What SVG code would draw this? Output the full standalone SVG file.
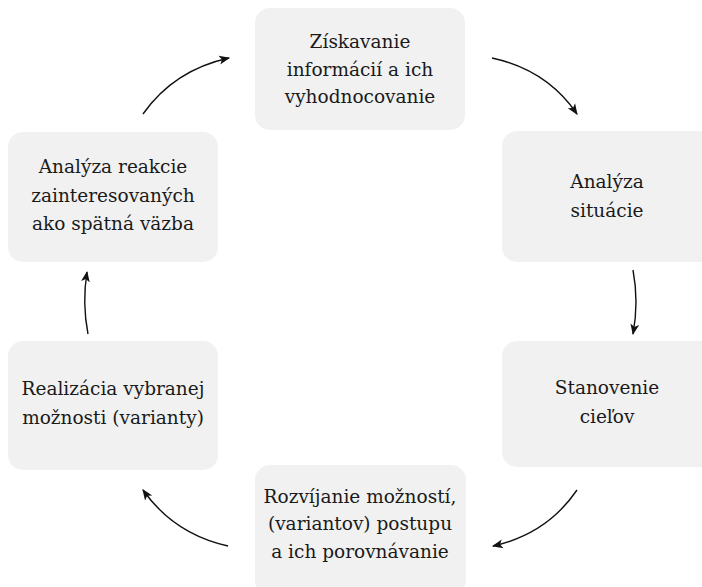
<svg xmlns="http://www.w3.org/2000/svg" width="702" height="587" viewBox="0 0 702 587">
<style>
.box{fill:#f1f1f1;}
.t{font-family:'DejaVu Serif',serif;font-size:18.5px;fill:#1a1a1a;text-anchor:middle;}
.c{fill:none;stroke:#111;stroke-width:1.4;marker-end:url(#ah);}
</style>
<defs>
<marker id="ah" viewBox="0 0 10 10" refX="9" refY="5" markerWidth="11" markerHeight="11" markerUnits="userSpaceOnUse" orient="auto">
<path d="M0,1 L10,5 L0,9 L2.5,5 Z" fill="#111"/>
</marker>
</defs>
<rect width="702" height="587" fill="#fff"/>
<g id="n1"><rect class="box" x="255" y="8" width="210" height="122" rx="15"/>
<text class="t" x="360" y="48">Získavanie</text><text class="t" x="360" y="76">informácií a ich</text><text class="t" x="360" y="103">vyhodnocovanie</text></g>
<g id="n2"><rect class="box" x="502" y="131" width="212" height="131" rx="15"/>
<text class="t" x="607" y="188">Analýza</text><text class="t" x="607" y="217">situácie</text></g>
<g id="n3"><rect class="box" x="502" y="341" width="212" height="126" rx="15"/>
<text class="t" x="607" y="394">Stanovenie</text><text class="t" x="607" y="423">cieľov</text></g>
<g id="n4"><rect class="box" x="255" y="465" width="211" height="130" rx="15"/>
<text class="t" x="360" y="503">Rozvíjanie možností,</text><text class="t" x="360" y="530">(variantov) postupu</text><text class="t" x="360" y="558">a ich porovnávanie</text></g>
<g id="n5"><rect class="box" x="8" y="341" width="210" height="129" rx="15"/>
<text class="t" x="113" y="395">Realizácia vybranej</text><text class="t" x="113" y="424">možnosti (varianty)</text></g>
<g id="n6"><rect class="box" x="8" y="132" width="210" height="130" rx="15"/>
<text class="t" x="113" y="173">Analýza reakcie</text><text class="t" x="113" y="202">zainteresovaných</text><text class="t" x="113" y="230">ako spätná väzba</text></g>
<g id="connectors">
<path class="c" d="M492,58 Q547,70 577,114"/>
<path class="c" d="M633,270 Q639,302 633,334"/>
<path class="c" d="M577,490 Q547,534 493,546"/>
<path class="c" d="M228,546 Q174,534 143,490"/>
<path class="c" d="M88,334 Q82,303 87,272"/>
<path class="c" d="M143,114 Q174,70 229,58"/>
</g>
</svg>
